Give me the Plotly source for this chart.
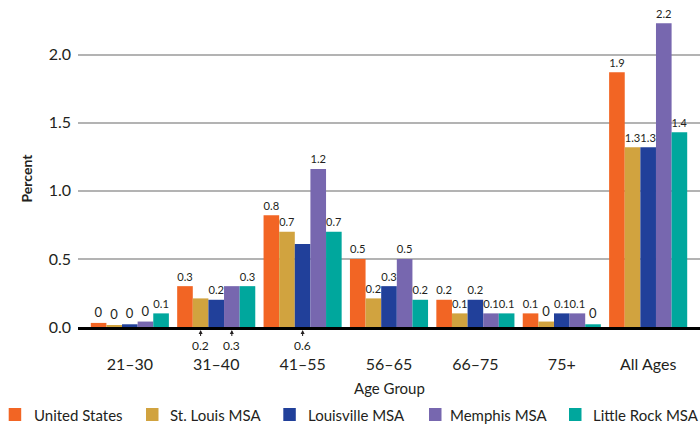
import plotly.graph_objects as go

# Age groups on the x axis
age_groups = ["21–30", "31–40", "41–55", "56–65", "66–75", "75+", "All Ages"]

# Percent by area and age group
united_states = [0.03, 0.30, 0.82, 0.50, 0.20, 0.10, 1.87]
st_louis = [0.01, 0.21, 0.70, 0.21, 0.10, 0.04, 1.32]
louisville = [0.02, 0.20, 0.61, 0.30, 0.20, 0.10, 1.32]
memphis = [0.04, 0.30, 1.16, 0.50, 0.10, 0.10, 2.23]
little_rock = [0.10, 0.30, 0.70, 0.20, 0.10, 0.02, 1.43]

series_names = ["United States", "St. Louis MSA", "Louisville MSA", "Memphis MSA", "Little Rock MSA"]
series_values = [united_states, st_louis, louisville, memphis, little_rock]
colors = ["#F26524", "#D1A33F", "#21409A", "#7767AF", "#00A79D"]

# Labels that sit below the axis with an arrow: (series index, group index)
below_labels = [(1, 1), (3, 1), (2, 2)]

FONT = "Lato"
TEXT = "#231f20"
BARGAP = 0.096

# Page geometry (pixels)
W, H = 700, 426
M_L, M_R, M_T, M_B = 78, 0, 7, 99
PW, PH = W - M_L - M_R, H - M_T - M_B


def px_x(px):
    return (px - M_L) / PW


def px_y(py):
    return (H - M_B - py) / PH


def fmt(v):
    return f"{round(v, 1):g}"


fig = go.Figure()
for si, (name, vals, col) in enumerate(zip(series_names, series_values, colors)):
    texts = ["" if (si, gi) in below_labels else fmt(v) for gi, v in enumerate(vals)]
    fig.add_trace(go.Bar(
        name=name, x=age_groups, y=vals, marker=dict(color=col, line_width=0),
        text=texts, textposition="outside", cliponaxis=False,
        textfont=dict(family=FONT, size=13, color=TEXT),
        showlegend=False,
    ))

bar_w = (1 - BARGAP) / len(series_names)
annotations = []
for si, gi in below_labels:
    xpos = gi + (si - (len(series_names) - 1) / 2) * bar_w
    annotations.append(dict(
        x=xpos, y=0, xref="x", yref="y", text=fmt(series_values[si][gi]),
        showarrow=True, arrowhead=2, arrowsize=0.8, arrowwidth=1, arrowcolor=TEXT,
        standoff=3, ax=0, ay=18, font=dict(family=FONT, size=12, color=TEXT),
    ))

annotations.append(dict(
    x=px_x(15), y=px_y(178), xref="paper", yref="paper", text="<b>Percent</b>",
    textangle=-90, showarrow=False, font=dict(family=FONT, size=14, color=TEXT),
))
annotations.append(dict(
    x=0.5, y=px_y(388), xref="paper", yref="paper", text="Age Group",
    xanchor="center", yanchor="middle",
    showarrow=False, font=dict(family=FONT, size=15, color=TEXT),
))

# Legend row: colour swatch followed by the series name
swatch_left = [8.7, 146, 283.3, 429, 569]
label_left = [31.7, 168, 306, 448, 590.7]
shapes = []
for name, col, sx, tx in zip(series_names, colors, swatch_left, label_left):
    shapes.append(dict(
        type="rect", xref="paper", yref="paper",
        x0=px_x(sx), x1=px_x(sx + 12.5), y0=px_y(421), y1=px_y(408),
        fillcolor=col, line_width=0,
    ))
    annotations.append(dict(
        x=px_x(tx), y=px_y(415), xref="paper", yref="paper", text=name,
        xanchor="left", yanchor="middle", showarrow=False,
        font=dict(family=FONT, size=15, color=TEXT),
    ))

fig.update_layout(
    width=W, height=H, barmode="group", bargap=BARGAP, bargroupgap=0,
    margin=dict(l=M_L, r=M_R, t=M_T, b=M_B, autoexpand=False),
    plot_bgcolor="white", paper_bgcolor="white",
    font=dict(family=FONT, size=15, color=TEXT),
    showlegend=False,
    annotations=annotations,
    shapes=shapes,
)
fig.update_xaxes(
    range=[-0.6, 6.6], showline=True, linecolor="black", linewidth=3,
    ticks="", ticklabelstandoff=21, tickfont=dict(family=FONT, size=16, color=TEXT),
    showgrid=False,
)
fig.update_yaxes(
    range=[0, 2.35], tickvals=[0, 0.5, 1.0, 1.5, 2.0], tickformat=".1f",
    showgrid=True, gridcolor="#b3b3b3", gridwidth=1.5, zeroline=False,
    ticks="", ticklabelstandoff=6, tickfont=dict(family=FONT, size=16, color=TEXT),
)

fig.write_html("out.html")
